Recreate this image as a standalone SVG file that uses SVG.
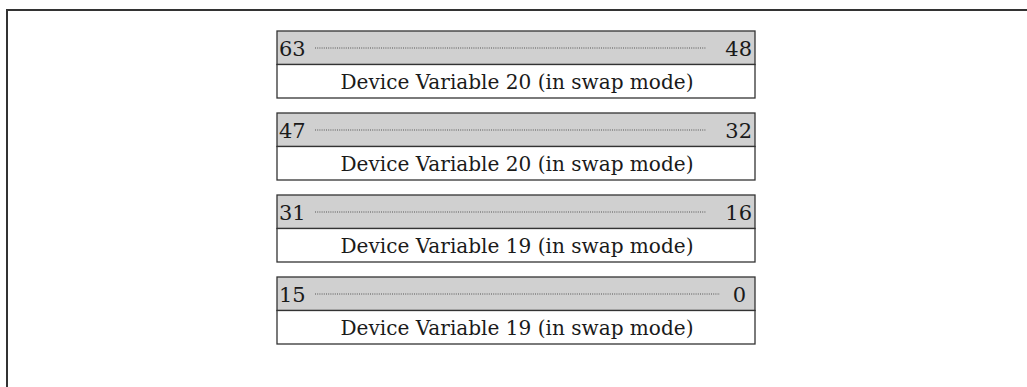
<svg xmlns="http://www.w3.org/2000/svg" width="1027" height="387" viewBox="0 0 1027 387">
<style>
.frame{fill:none;stroke:#333;stroke-width:2}
.hdr{fill:#d0d0d0;stroke:#333;stroke-width:1.3}
.body{fill:#fff;stroke:#333;stroke-width:1.3}
.dots{stroke:#555;stroke-width:1;stroke-dasharray:1 1.2;fill:none}
text{font-family:"DejaVu Serif","Liberation Serif",serif;font-size:20px;fill:#1a1a1a}
.n{font-size:21px}
.c{text-anchor:middle}
.r{text-anchor:end}
</style>
<path class="frame" d="M7,387 V10 H1027"/>
<g id="reg1">
<rect class="hdr" x="277" y="31" width="478" height="33.5"/>
<rect class="body" x="277" y="64.5" width="478" height="33.5"/>
<text class="n" x="279" y="55.5">63</text>
<line class="dots" x1="315" y1="48" x2="706" y2="48"/>
<text class="n r" x="752" y="55.5">48</text>
<text class="c" x="517" y="88.5" textLength="353" lengthAdjust="spacingAndGlyphs">Device Variable 20 (in swap mode)</text>
</g>
<g id="reg2">
<rect class="hdr" x="277" y="113" width="478" height="33.5"/>
<rect class="body" x="277" y="146.5" width="478" height="33.5"/>
<text class="n" x="279" y="137.5">47</text>
<line class="dots" x1="315" y1="130" x2="706" y2="130"/>
<text class="n r" x="752" y="137.5">32</text>
<text class="c" x="517" y="170.5" textLength="353" lengthAdjust="spacingAndGlyphs">Device Variable 20 (in swap mode)</text>
</g>
<g id="reg3">
<rect class="hdr" x="277" y="195" width="478" height="33.5"/>
<rect class="body" x="277" y="228.5" width="478" height="33.5"/>
<text class="n" x="279" y="219.5">31</text>
<line class="dots" x1="315" y1="212" x2="706" y2="212"/>
<text class="n r" x="752" y="219.5">16</text>
<text class="c" x="517" y="252.5" textLength="353" lengthAdjust="spacingAndGlyphs">Device Variable 19 (in swap mode)</text>
</g>
<g id="reg4">
<rect class="hdr" x="277" y="277" width="478" height="33.5"/>
<rect class="body" x="277" y="310.5" width="478" height="33.5"/>
<text class="n" x="279" y="301.5">15</text>
<line class="dots" x1="315" y1="294" x2="720" y2="294"/>
<text class="n r" x="746" y="301.5">0</text>
<text class="c" x="517" y="334.5" textLength="353" lengthAdjust="spacingAndGlyphs">Device Variable 19 (in swap mode)</text>
</g>
<g id="connectors"/>
</svg>
